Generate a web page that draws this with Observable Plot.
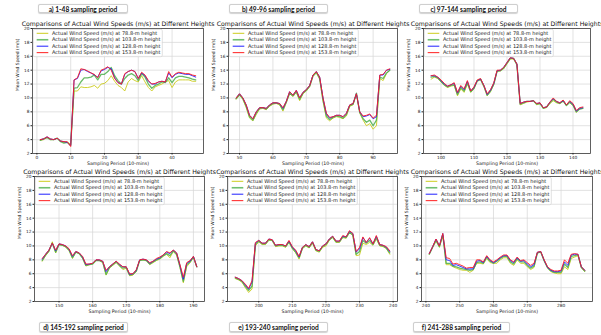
<!DOCTYPE html>
<html>
<head>
<meta charset="utf-8">
<script src="https://cdn.jsdelivr.net/npm/d3@7"></script>
<script src="https://cdn.jsdelivr.net/npm/@observablehq/plot@0.6"></script>
<style>
  body { margin: 0; background: #fff; }
  #fig { position: relative; width: 601px; height: 335px; overflow: hidden; background: #fff; font-family: "DejaVu Sans", sans-serif; }
  .tag { position: absolute; box-sizing: border-box; height: 9.5px; border: 0.8px solid #cfcfcf; border-radius: 2px; background: #fff;
         box-shadow: 0 0.6px 1px rgba(0,0,0,0.18); font: bold 6.6px Lato, sans-serif; line-height: 8px; text-align: center; color: #111; white-space: nowrap; }
</style>
</head>
<body>
<div id="fig"></div>
<script>
// Mean wind speed (m/s) per 10-minute sampling period, at four hub heights.
const heights = ["78.8", "103.8", "128.8", "153.8"];
const seriesLabels = heights.map(h => `Actual Wind Speed (m/s) at ${h}-m height`);
const seriesColors = ["#cccc1c", "#4caf4c", "#1f1fff", "#ff1f1f"];
const chartTitle = "Comparisons of Actual Wind Speeds (m/s) at Different Heights";
const xLabel = "Sampling Period (10-mins)";
const yLabel = "Mean Wind Speed (m/s)";
const yTicks = [2, 4, 6, 8, 10, 12, 14, 16, 18, 20];

// a) periods 1-47
const a78  = [3.9,4.0,4.3,4.0,4.0,4.2,3.8,3.6,3.6,3.3, 11.0,11.0,11.6,11.5,11.5,11.6,11.8,11.4,12.0,12.1, 12.5,13.2,12.4,11.8,11.5,11.0,12.3,12.8,12.5,12.3, 13.2,12.3,11.5,11.0,11.6,11.8,12.0,12.3,12.5,11.5, 12.3,12.6,12.6,12.6,12.6,12.4,12.4];
const a103 = [3.9,4.1,4.3,4.0,4.0,4.2,3.7,3.5,3.6,3.2, 11.4,11.5,12.3,12.9,12.9,13.0,13.3,12.6,13.4,13.4, 13.8,14.4,13.2,12.5,12.0,12.8,13.3,13.5,13.2,12.5, 13.5,13.0,12.0,11.4,11.8,12.0,12.3,12.2,12.9,12.2, 12.9,13.1,13.1,13.0,12.9,12.7,12.6];
const a128 = [4.0,4.1,4.4,4.1,4.0,4.2,3.8,3.7,3.6,3.1, 12.6,12.8,14.0,14.1,13.8,13.6,13.3,13.0,13.9,14.1, 14.4,14.2,12.9,12.2,12.0,13.4,13.8,14.0,13.8,12.8, 13.6,13.2,12.4,12.0,12.0,12.3,12.4,12.3,13.6,12.9, 13.4,13.6,13.5,13.4,13.4,13.2,13.0];
const a153 = [4.0,4.1,4.4,4.1,4.0,4.2,3.8,3.7,3.7,3.0, 12.6,12.9,14.2,14.1,13.9,13.6,13.4,12.9,14.0,14.2, 14.5,14.0,12.8,12.2,12.0,13.5,13.8,14.0,13.8,12.8, 13.7,13.3,12.5,12.0,12.1,12.3,12.4,12.3,13.8,13.0, 13.5,13.7,13.6,13.5,13.5,13.3,13.2];

// b) periods 49-95
const b78  = [9.8,10.4,9.8,8.6,7.1,6.7,7.6,8.4,8.5,8.3, 8.8,9.1,9.2,9.0,8.1,9.3,10.6,10.2,10.8,9.6, 10.6,11.0,11.6,13.1,13.6,12.7,9.5,7.1,6.7,7.1, 7.3,7.2,7.0,7.4,8.8,9.0,10.6,7.8,6.8,6.0, 6.3,5.5,6.0,12.8,12.5,13.5,14.0];
const b103 = [9.9,10.5,9.9,8.8,7.3,6.8,7.8,8.5,8.6,8.4, 8.9,9.2,9.3,9.1,8.3,9.4,10.7,10.3,10.9,9.8, 10.7,11.1,11.7,13.2,13.7,12.8,9.7,7.4,6.9,7.2, 7.4,7.3,7.1,7.6,8.9,9.1,10.7,7.9,7.0,6.5, 6.8,6.0,6.8,13.0,12.8,13.6,14.0];
const b128 = [10.0,10.6,10.0,9.0,7.5,7.0,8.0,8.6,8.6,8.5, 9.0,9.3,9.3,9.2,8.5,9.5,10.9,10.4,11.1,10.0, 10.8,11.2,11.8,13.3,13.8,13.0,10.0,7.7,7.1,7.3, 7.5,7.5,7.3,7.8,9.0,9.2,10.6,8.0,7.3,7.4, 7.6,7.0,7.3,13.3,13.3,14.0,14.1];
const b153 = [10.0,10.6,10.0,9.0,7.5,7.0,8.0,8.6,8.6,8.5, 9.0,9.3,9.3,9.2,8.6,9.5,10.9,10.4,11.1,10.0, 10.8,11.2,11.8,13.3,13.8,13.0,10.0,7.8,7.2,7.3, 7.5,7.5,7.3,7.8,9.0,9.2,10.6,8.0,7.4,7.5, 7.7,7.1,7.5,13.3,13.4,14.0,14.2];

// c) periods 97-143
const c78  = [12.7,13.0,12.8,12.3,11.8,11.5,11.7,11.8,10.3,11.3, 10.8,12.0,10.8,11.3,12.4,12.6,11.6,10.3,10.9,11.9, 13.8,13.9,14.2,14.9,15.6,15.6,14.8,9.0,9.2,9.4, 9.5,9.6,9.0,9.2,8.5,8.6,9.2,9.6,9.3,9.2, 9.5,8.9,9.3,8.9,7.9,8.4,8.5];
const c103 = [13.0,13.1,12.9,12.4,11.9,11.6,11.8,11.9,10.5,11.5, 11.0,12.2,10.9,11.4,12.5,12.7,11.7,10.4,11.0,12.0, 13.9,13.9,14.3,15.0,15.7,15.7,14.8,9.1,9.3,9.5, 9.5,9.6,9.1,9.2,8.5,8.7,9.3,9.8,9.4,9.2, 9.6,8.9,9.4,9.0,8.0,8.4,8.5];
const c128 = [13.2,13.2,13.0,12.5,12.0,11.7,11.9,12.1,10.7,11.7, 11.2,12.4,11.0,11.5,12.5,12.7,11.8,10.5,11.1,12.1, 13.9,14.0,14.4,15.1,15.8,15.7,14.9,9.2,9.4,9.5, 9.5,9.6,9.2,9.3,8.6,8.7,9.4,9.9,9.5,9.3, 9.6,9.0,9.5,9.1,8.1,8.5,8.6];
const c153 = [13.2,13.3,13.0,12.6,12.1,11.7,11.9,12.2,10.8,11.8, 11.3,12.5,11.0,11.6,12.6,12.8,11.8,10.6,11.2,12.2, 14.0,14.0,14.4,15.1,15.8,15.7,14.9,9.2,9.4,9.5, 9.5,9.6,9.2,9.3,8.6,8.7,9.4,10.0,9.5,9.3, 9.7,9.0,9.6,9.2,8.2,8.6,8.7];

// d) periods 145-191
const d78  = [7.8,8.6,9.2,10.6,9.0,10.2,10.1,9.8,9.3,8.2, 9.1,8.9,8.2,7.1,7.3,7.4,7.9,7.9,7.6,5.8, 6.8,7.2,7.6,7.1,6.6,6.8,5.7,5.8,6.3,7.9, 8.0,7.9,7.3,7.6,7.9,8.1,8.5,8.8,8.3,9.2, 8.7,6.9,4.7,7.0,7.6,8.3,7.0];
const d103 = [7.9,8.7,9.3,10.4,9.1,10.2,10.1,9.9,9.4,8.3, 9.1,8.9,8.3,7.2,7.3,7.4,7.9,7.9,7.7,5.9, 6.9,7.3,7.7,7.2,6.8,6.9,5.8,5.9,6.4,7.9, 8.0,7.9,7.4,7.7,8.0,8.2,8.6,8.9,8.6,9.3, 8.8,7.0,4.9,7.3,7.7,8.4,7.0];
const d128 = [8.1,8.8,9.4,10.4,9.3,10.3,10.2,10.0,9.5,8.5, 9.2,9.0,8.4,7.3,7.4,7.5,8.0,8.0,7.8,6.3, 7.0,7.4,7.8,7.3,7.0,7.0,5.9,6.0,6.5,8.0, 8.1,8.0,7.5,7.8,8.1,8.3,8.7,9.1,8.9,9.4, 9.0,7.2,5.2,7.5,7.8,8.5,7.0];
const d153 = [8.2,8.8,9.4,10.4,9.4,10.3,10.2,10.0,9.6,8.6, 9.2,9.0,8.5,7.4,7.4,7.5,8.0,8.0,7.8,6.5, 7.0,7.4,7.8,7.4,7.0,7.0,6.0,6.0,6.6,8.0, 8.1,8.0,7.6,7.8,8.2,8.4,8.7,9.2,9.0,9.4, 9.0,7.3,5.5,7.6,7.9,8.5,7.0];

// e) periods 193-239
const e78  = [5.3,5.1,4.8,4.0,3.3,3.8,10.0,10.6,10.2,10.2, 10.8,10.8,9.9,10.0,10.0,9.8,10.5,9.6,9.0,8.1, 9.6,10.0,9.7,10.4,9.3,9.1,9.8,10.0,10.8,11.2, 10.5,10.5,11.2,11.1,11.9,11.5,8.6,8.7,10.4,10.2, 10.5,10.1,11.0,10.0,9.9,9.6,8.8];
const e103 = [5.4,5.2,4.9,4.2,3.6,4.2,10.2,10.7,10.3,10.3, 10.9,10.8,10.0,10.1,10.1,9.9,10.6,9.7,9.1,8.3, 9.7,10.1,9.8,10.5,9.4,9.2,9.9,10.2,10.9,11.3, 10.6,10.6,11.3,11.2,12.0,11.6,8.8,9.2,10.8,10.4, 10.8,10.2,11.2,10.1,10.0,9.7,9.0];
const e128 = [5.5,5.3,5.0,4.4,3.8,4.8,10.4,10.8,10.4,10.4, 11.0,10.9,10.1,10.2,10.2,10.0,10.7,9.8,9.3,8.4, 9.8,10.2,9.9,10.6,9.5,9.3,10.0,10.3,11.0,11.4, 10.7,10.7,11.4,11.3,12.1,11.8,9.1,9.6,11.2,10.5, 11.1,10.3,11.4,10.2,10.1,9.8,9.2];
const e153 = [5.5,5.3,5.0,4.5,3.9,5.0,10.5,10.8,10.4,10.4, 11.0,10.9,10.1,10.2,10.2,10.0,10.8,9.9,9.4,8.5, 9.8,10.2,9.9,10.6,9.5,9.3,10.0,10.3,11.0,11.4, 10.7,10.7,11.5,11.3,12.2,11.8,9.2,9.8,11.3,10.5, 11.2,10.3,11.5,10.2,10.1,9.9,9.3];

// f) periods 241-287
const f78  = [8.8,9.8,10.7,9.8,11.5,7.3,7.3,7.0,6.8,6.6, 6.5,6.5,6.2,6.5,7.5,7.5,7.4,8.2,7.6,7.5, 7.5,8.0,8.3,8.3,7.5,7.2,8.0,7.5,7.5,7.0, 6.6,6.9,9.0,9.1,7.8,6.8,6.3,6.1,6.0,6.0, 7.0,6.6,8.2,8.4,8.6,6.9,6.3];
const f103 = [8.8,9.8,10.8,9.9,11.6,7.5,7.5,7.1,7.0,6.8, 6.7,6.6,6.5,6.6,7.6,7.7,7.5,8.4,7.8,7.5, 7.8,8.2,8.5,8.5,7.7,7.4,8.2,7.7,7.7,7.2, 6.8,7.1,9.0,9.1,7.9,6.9,6.4,6.2,6.2,6.2, 7.4,6.9,8.5,8.6,8.7,6.9,6.4];
const f128 = [8.9,9.9,11.0,10.0,11.8,8.0,7.9,7.2,7.3,7.1, 6.9,6.7,6.7,6.7,7.8,7.9,7.6,8.5,7.9,7.6, 7.9,8.3,8.6,8.6,7.9,7.6,8.3,7.8,7.9,7.4, 7.0,7.3,9.1,9.2,7.9,6.9,6.5,6.3,6.3,6.4, 7.7,7.2,8.7,8.8,8.8,7.0,6.5];
const f153 = [8.9,9.9,11.0,10.0,11.8,8.3,8.2,7.4,7.5,7.3, 7.1,6.8,6.9,6.9,8.0,8.0,7.7,8.6,8.0,7.7, 8.0,8.4,8.7,8.7,8.0,7.7,8.4,7.9,8.0,7.6, 7.2,7.5,9.1,9.2,8.0,7.0,6.6,6.4,6.4,6.5, 8.0,7.5,8.8,8.9,8.8,7.0,6.5];

const panelTags = ["a) 1-48 sampling period", "b) 49-96 sampling period", "c) 97-144 sampling period",
                   "d) 145-192 sampling period", "e) 193-240 sampling period", "f) 241-288 sampling period"];
const panelStarts = [1, 49, 97, 145, 193, 241];
const panelSeries = [[a78, a103, a128, a153], [b78, b103, b128, b153], [c78, c103, c128, c153],
                     [d78, d103, d128, d153], [e78, e103, e128, e153], [f78, f103, f128, f153]];
const panelXTicks = [[0, 10, 20, 30, 40], [50, 60, 70, 80, 90], [100, 110, 120, 130, 140],
                     [150, 160, 170, 180, 190], [200, 210, 220, 230, 240], [240, 250, 260, 270, 280]];

// Layout: plot frame [left, right, top, bottom] and tag box [left, top, width] per panel.
const layout = [
  {frame: [32, 203, 28, 153],     tag: [38, 3.5, 90]},
  {frame: [228, 397, 28, 153],    tag: [229, 3.5, 99]},
  {frame: [423, 590, 28, 153],    tag: [419, 3.5, 99]},
  {frame: [33.5, 203.5, 176, 301], tag: [39, 322, 89]},
  {frame: [227, 397, 176, 301],   tag: [229, 322, 99]},
  {frame: [421, 592, 176, 301],   tag: [413, 322, 97]}
];

const fig = document.getElementById("fig");
const gridStyle = {stroke: "#d6d6d6", strokeOpacity: 1, strokeWidth: 0.7};
const lineWidths = [0.9, 1.3, 0.9, 0.9];

panelSeries.forEach((series, p) => {
  const [L, R, T, B] = layout[p].frame;
  const ml = 30, mr = 6, mt = 14, mb = 16;
  const start = panelStarts[p];
  const n = series[0].length;
  const pad = (n - 1) * 0.05;
  const rows = series.map(vals => vals.map((v, i) => ({period: start + i, speed: v})));

  const chart = Plot.plot({
    width: (R - L) + ml + mr,
    height: (B - T) + mt + mb,
    marginLeft: ml, marginRight: mr, marginTop: mt, marginBottom: mb,
    style: {background: "transparent", overflow: "visible", fontFamily: "DejaVu Sans", fontSize: "4.3px", color: "#222"},
    x: {domain: [start - pad, start + n - 1 + pad]},
    y: {domain: [2, 20]},
    marks: [
      Plot.gridX(panelXTicks[p], gridStyle),
      Plot.gridY(yTicks, gridStyle),
      ...rows.map((r, k) => Plot.line(r, {x: "period", y: "speed", stroke: seriesColors[k], strokeWidth: lineWidths[k], strokeOpacity: k === 1 ? 0.85 : 1})),
      Plot.frame({stroke: "#3a3a3a", strokeWidth: 0.8}),
      Plot.axisX(panelXTicks[p], {tickSize: 1.5, tickPadding: 1, label: null}),
      Plot.axisY(yTicks, {tickSize: 1.5, tickPadding: 1.5, label: null}),
      Plot.text([chartTitle], {frameAnchor: "top", dy: -4, lineAnchor: "middle", fontSize: 6.2, fill: "#111"}),
      Plot.text([xLabel], {frameAnchor: "bottom", dy: 10, lineAnchor: "middle", fontSize: 4.7}),
      Plot.text([yLabel], {frameAnchor: "left", dx: -15, rotate: -90, lineAnchor: "middle", fontSize: 4.4})
    ]
  });
  chart.style.position = "absolute";
  chart.style.left = (L - ml) + "px";
  chart.style.top = (T - mt) + "px";

  // Legend box in the upper-left corner of the plot frame
  const lg = d3.select(chart).append("g")
    .attr("transform", `translate(${ml + 1.3},${mt + 1.3})`)
    .attr("font-family", "DejaVu Sans").attr("font-size", 5.0).attr("text-anchor", "start");
  lg.append("rect").attr("width", 129).attr("height", 27.4).attr("rx", 1.5)
    .attr("fill", "#fff").attr("fill-opacity", 0.85).attr("stroke", "#cccccc").attr("stroke-width", 0.6);
  seriesLabels.forEach((label, k) => {
    const y = 4 + k * 6.45;
    lg.append("line").attr("x1", 3.4).attr("x2", 15).attr("y1", y).attr("y2", y)
      .attr("stroke", seriesColors[k]).attr("stroke-width", k === 1 ? 1.6 : 1).attr("stroke-opacity", k === 1 ? 0.8 : 1);
    lg.append("text").attr("x", 18.7).attr("y", y).attr("dy", "0.35em").attr("fill", "#222").text(label);
  });
  fig.appendChild(chart);

  const [tx, ty, tw] = layout[p].tag;
  const tag = document.createElement("div");
  tag.className = "tag";
  tag.style.left = tx + "px";
  tag.style.top = ty + "px";
  tag.style.width = tw + "px";
  tag.textContent = panelTags[p];
  fig.appendChild(tag);
});
</script>
</body>
</html>
